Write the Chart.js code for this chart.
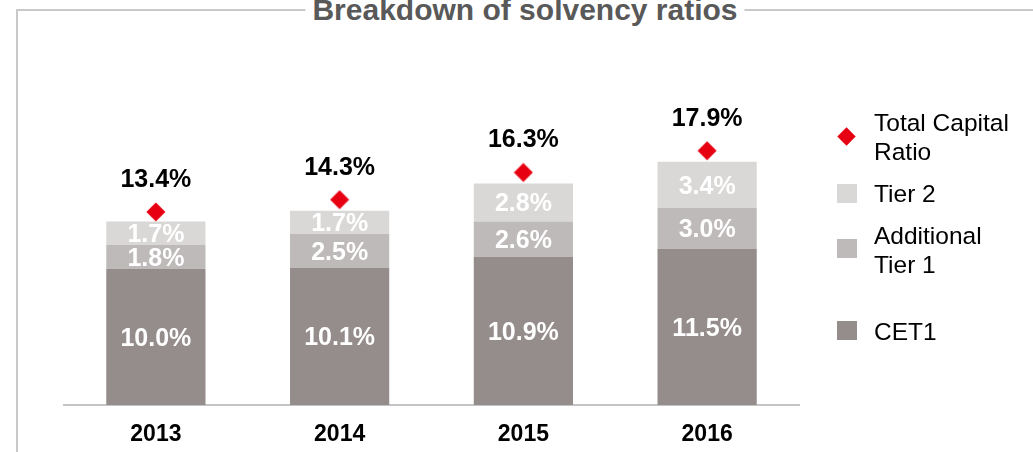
<!DOCTYPE html>
<html>
<head>
<meta charset="utf-8">
<script src="https://cdn.jsdelivr.net/npm/chart.js@4/dist/chart.umd.min.js"></script>
<style>
    body { margin: 0; background: #fff; font-family: "Liberation Sans", Arial, sans-serif; }
    #wrap { position: relative; width: 1033px; height: 452px; overflow: hidden; }
    #frame { position: absolute; left: 16px; top: 9px; width: 1040px; height: 460px;
             border-top: 2px solid #c9c9c9; border-left: 2px solid #c9c9c9; }
    #title { position: absolute; left: 525px; top: -5px; transform: translateX(-50%);
             background: #fff; padding: 0 7px; white-space: nowrap;
             font-size: 30px; line-height: 29px; font-weight: bold; color: #595959; }
    #chart { position: absolute; left: 0; top: 0; }
    .item { position: absolute; left: 874px; font-size: 24.5px; line-height: 29px; color: #000; width: 140px; }
    .box { position: absolute; left: 837px; width: 20px; height: 19px; }
    .dia { position: absolute; width: 13px; height: 13px; transform: rotate(45deg); }
</style>
</head>
<body>
<div id="wrap">
    <div id="frame"></div>
    <div id="title">Breakdown of solvency ratios</div>
    <canvas id="chart" width="1033" height="452"></canvas>
    <div id="legend"></div>
</div>

<script>
    // data
    const years = ['2013', '2014', '2015', '2016'];
    const cet1 = [10.0, 10.1, 10.9, 11.5];
    const additionalTier1 = [1.8, 2.5, 2.6, 3.0];
    const tier2 = [1.7, 1.7, 2.8, 3.4];
    const totalCapitalRatio = [13.4, 14.3, 16.3, 17.9];

    const red = '#e60012';

    // diamond sits a bit above the total value
    function diamond() {
        const c = document.createElement('canvas');
        c.width = 20; c.height = 42;
        const g = c.getContext('2d');
        g.fillStyle = red;
        g.beginPath();
        g.moveTo(10, 0.5); g.lineTo(19.5, 10); g.lineTo(10, 19.5); g.lineTo(0.5, 10);
        g.closePath();
        g.fill();
        return c;
    }

    const valueLabels = {
        id: 'valueLabels',
        afterDatasetsDraw(chart) {
            const ctx = chart.ctx;
            ctx.save();
            ctx.textAlign = 'center';
            ctx.textBaseline = 'middle';
            ctx.font = 'bold 25px "Liberation Sans", Arial';
            chart.data.datasets.forEach((ds, i) => {
                chart.getDatasetMeta(i).data.forEach((el, j) => {
                    const txt = ds.data[j].toFixed(1) + '%';
                    if (ds.type === 'line') {
                        ctx.fillStyle = '#000';
                        ctx.fillText(txt, el.x, el.y - 43);
                    } else {
                        ctx.fillStyle = '#fff';
                        ctx.fillText(txt, el.x, (el.y + el.base) / 2 + 2);
                    }
                });
            });
            ctx.restore();
        }
    };

    const chart = new Chart(document.getElementById('chart'), {
        data: {
            labels: years,
            datasets: [
                { type: 'line', label: 'Total Capital Ratio', data: totalCapitalRatio, stack: 'total',
                  showLine: false, pointStyle: diamond(), pointRadius: 10, order: 0 },
                { type: 'bar', label: 'CET1', data: cet1, backgroundColor: '#958c8c', stack: 'cap', order: 1 },
                { type: 'bar', label: 'Additional Tier 1', data: additionalTier1, backgroundColor: '#bfbaba', stack: 'cap', order: 1 },
                { type: 'bar', label: 'Tier 2', data: tier2, backgroundColor: '#dad8d7', stack: 'cap', order: 1 }
            ]
        },
        options: {
            responsive: false,
            animation: false,
            layout: { padding: { left: 64, right: 234, top: 106, bottom: 0 } },
            datasets: { bar: { categoryPercentage: 1, barPercentage: 0.54 } },
            plugins: { legend: { display: false }, tooltip: { enabled: false } },
            scales: {
                x: {
                    stacked: true,
                    grid: { display: false, drawTicks: false },
                    border: { display: true, color: '#c4c4c4', width: 2 },
                    ticks: { color: '#000', padding: 16, font: { family: '"Liberation Sans", Arial', size: 23, weight: 'bold' } },
                    afterFit: s => { s.height = 47; }
                },
                y: { display: false, stacked: true, min: 0, max: 22 }
            }
        },
        plugins: [valueLabels]
    });

    // legend, built from the datasets
    const legend = document.getElementById('legend');
    const rows = [
        { ds: 0, top: 108, marker: 136 },
        { ds: 3, top: 179, marker: 184 },
        { ds: 2, top: 221, marker: 239 },
        { ds: 1, top: 317, marker: 321 }
    ];
    for (const r of rows) {
        const ds = chart.data.datasets[r.ds];
        if (ds.type === 'line') {
            legend.innerHTML += `<div class="dia" style="left:840px;top:${r.marker - 6.5}px;background:${red}"></div>`;
        } else {
            legend.innerHTML += `<div class="box" style="top:${r.marker}px;background:${ds.backgroundColor}"></div>`;
        }
        legend.innerHTML += `<div class="item" style="top:${r.top}px">${ds.label}</div>`;
    }
</script>
</body>
</html>
